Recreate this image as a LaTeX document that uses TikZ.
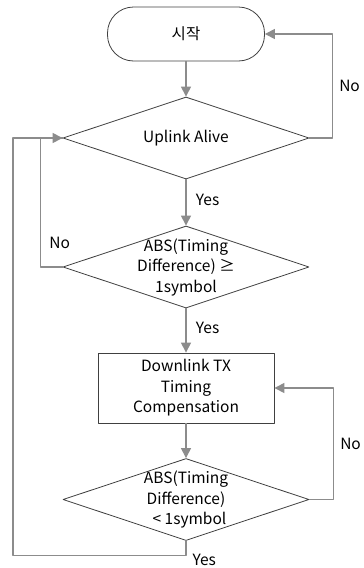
\documentclass[tikz,border=0pt]{standalone}
\usepackage{fontspec}
\setmainfont{Noto Sans CJK KR}
\usetikzlibrary{shapes.geometric,arrows.meta}
\begin{document}
\begin{tikzpicture}[x=1pt,y=-1pt,>={Triangle[length=10pt,width=10pt]},
    line join=round,
    font=\fontsize{15.5}{20.5}\selectfont,
    flow/.style={draw=black!45,line width=1.1pt,->},
    loop/.style={draw=black!45,line width=1.1pt},
    term/.style={draw=black!75,line width=0.8pt,rounded corners=26pt,minimum width=157pt,minimum height=54pt},
    dia/.style={draw=black!75,line width=0.8pt,diamond,inner sep=0pt,minimum width=246pt,minimum height=82pt},
    proc/.style={draw=black!75,line width=0.8pt,minimum width=176pt,minimum height=70pt,align=center},
    txt/.style={align=center,inner sep=0pt}]
    \useasboundingbox (0,0) rectangle (364,568);
    % boxes
    \node[term] (start) at (186,34) {시작};
    \node[dia] (alive) at (186,138) {};
    \node[txt] at (alive) {Uplink Alive};
    \node[dia] (diffa) at (186,267) {};
    \node[txt] at (diffa) {ABS(Timing\\Difference) ≥\\1symbol};
    \node[proc] (comp) at (186,388) {Downlink TX\\Timing\\Compensation};
    \node[dia] (diffb) at (186,499.5) {};
    \node[txt] at (diffb) {ABS(Timing\\Difference)\\\ \ < 1symbol};
    % arrows
    \draw[flow] (start) -- (alive);
    \draw[flow] (alive) -- node[right=6pt,pos=0.45]{Yes} (diffa);
    \draw[flow] (diffa) -- node[right=6pt,pos=0.45]{Yes} (comp);
    \draw[flow] (comp) -- (diffb);
    \draw[flow] (alive.east) -- ++(23,0) |- node[pos=0.25,right=3pt]{No} (start.east);
    \draw[flow] (diffa.west) -- ++(-22,0) node[anchor=west,xshift=5pt,yshift=24pt]{No} |- (alive.west);
    \draw[flow] (diffb.east) -- ++(24,0) |- node[pos=0.25,right=3pt]{No} (comp.east);
    \draw[loop] (diffb.south) -- ++(0,15) node[anchor=north west,xshift=6pt,yshift=2pt,inner sep=0pt]{Yes} -- ++(-173,0) |- (alive.west);
\end{tikzpicture}
\end{document}
